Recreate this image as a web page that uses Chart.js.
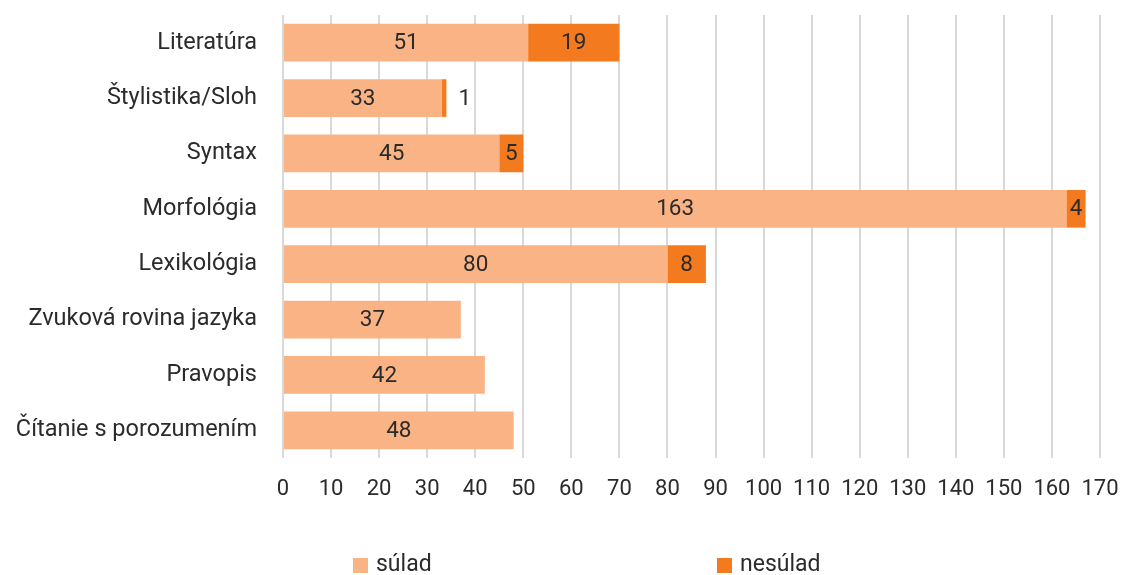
<!DOCTYPE html>
<html>
<head>
<meta charset="utf-8">
<script src="https://cdn.jsdelivr.net/npm/chart.js@4.4.1/dist/chart.umd.min.js"></script>
<style>
html,body{margin:0;padding:0;background:#fff;}
#wrap{width:1124px;height:575px;position:relative;}
</style>
</head>
<body>
<div id="wrap"><canvas id="c" width="1124" height="575"></canvas></div>
<script>
const categories = ["Literatúra","Štylistika/Sloh","Syntax","Morfológia","Lexikológia","Zvuková rovina jazyka","Pravopis","Čítanie s porozumením"];
const suladValues = [51,33,45,163,80,37,42,48];
const nesuladValues = [19,1,5,4,8,0,0,0];
const seriesNames = ["súlad","nesúlad"];
const seriesColors = ["#F9B384","#F47A20"];
const xMin = 0, xMax = 170, xStep = 10;

const FONT = "Roboto, 'Liberation Sans Narrow', sans-serif";
const TEXT = "#2b2b2b";

const valueLabels = {
  id: 'valueLabels',
  afterDatasetsDraw(chart) {
    const ctx = chart.ctx;
    ctx.save();
    ctx.font = "400 22.5px " + FONT;
    ctx.fillStyle = TEXT;
    ctx.textBaseline = 'middle';
    chart.data.datasets.forEach((ds, di) => {
      const meta = chart.getDatasetMeta(di);
      meta.data.forEach((el, i) => {
        const v = ds.data[i];
        if (!v) return;
        const p = el.getProps(['x','y','base'], true);
        const w = p.x - p.base;
        const txt = String(v);
        const tw = ctx.measureText(txt).width;
        if (tw + 2 > w) {
          ctx.textAlign = 'left';
          ctx.fillText(txt, p.x + 12, p.y + 1);
        } else {
          ctx.textAlign = 'center';
          ctx.fillText(txt, (p.x + p.base) / 2, p.y + 1);
        }
      });
    });
    ctx.restore();
  }
};

const customLegend = {
  id: 'customLegend',
  afterDraw(chart) {
    const ctx = chart.ctx;
    const xs = [353, 717];
    ctx.save();
    ctx.font = "400 23px " + FONT;
    ctx.textBaseline = 'middle';
    ctx.textAlign = 'left';
    chart.data.datasets.forEach((ds, i) => {
      ctx.fillStyle = ds.backgroundColor;
      ctx.fillRect(xs[i], 558, 15, 15);
      ctx.fillStyle = TEXT;
      ctx.fillText(ds.label, xs[i] + 23, 565);
    });
    ctx.restore();
  }
};

new Chart(document.getElementById('c'), {
  type: 'bar',
  data: {
    labels: categories,
    datasets: [
      { label: seriesNames[0], data: suladValues, backgroundColor: seriesColors[0], borderWidth: 0 },
      { label: seriesNames[1], data: nesuladValues, backgroundColor: seriesColors[1], borderWidth: 0 }
    ]
  },
  options: {
    indexAxis: 'y',
    responsive: false,
    animation: false,
    devicePixelRatio: 1,
    layout: { padding: { left: 0, right: 24, top: 15, bottom: 67 } },
    datasets: { bar: { categoryPercentage: 1, barPercentage: 0.68 } },
    plugins: {
      legend: { display: false },
      tooltip: { enabled: false }
    },
    scales: {
      x: {
        stacked: true,
        min: xMin, max: xMax,
        ticks: { stepSize: xStep, color: TEXT, padding: 18, font: { family: FONT, size: 22 }, maxRotation: 0, autoSkip: false },
        grid: { color: '#d9d9d9', lineWidth: 2, drawTicks: false },
        border: { display: false },
        afterFit(scale) { scale.height = 50; scale.paddingLeft = 0; scale.paddingRight = 0; }
      },
      y: {
        stacked: true,
        ticks: { color: TEXT, padding: 26, font: { family: FONT, size: 23.5 } },
        grid: { display: false, drawTicks: false },
        border: { display: false },
        afterFit(scale) { scale.width = 283; scale.paddingTop = 0; scale.paddingBottom = 0; }
      }
    }
  },
  plugins: [valueLabels, customLegend]
});
</script>
</body>
</html>
